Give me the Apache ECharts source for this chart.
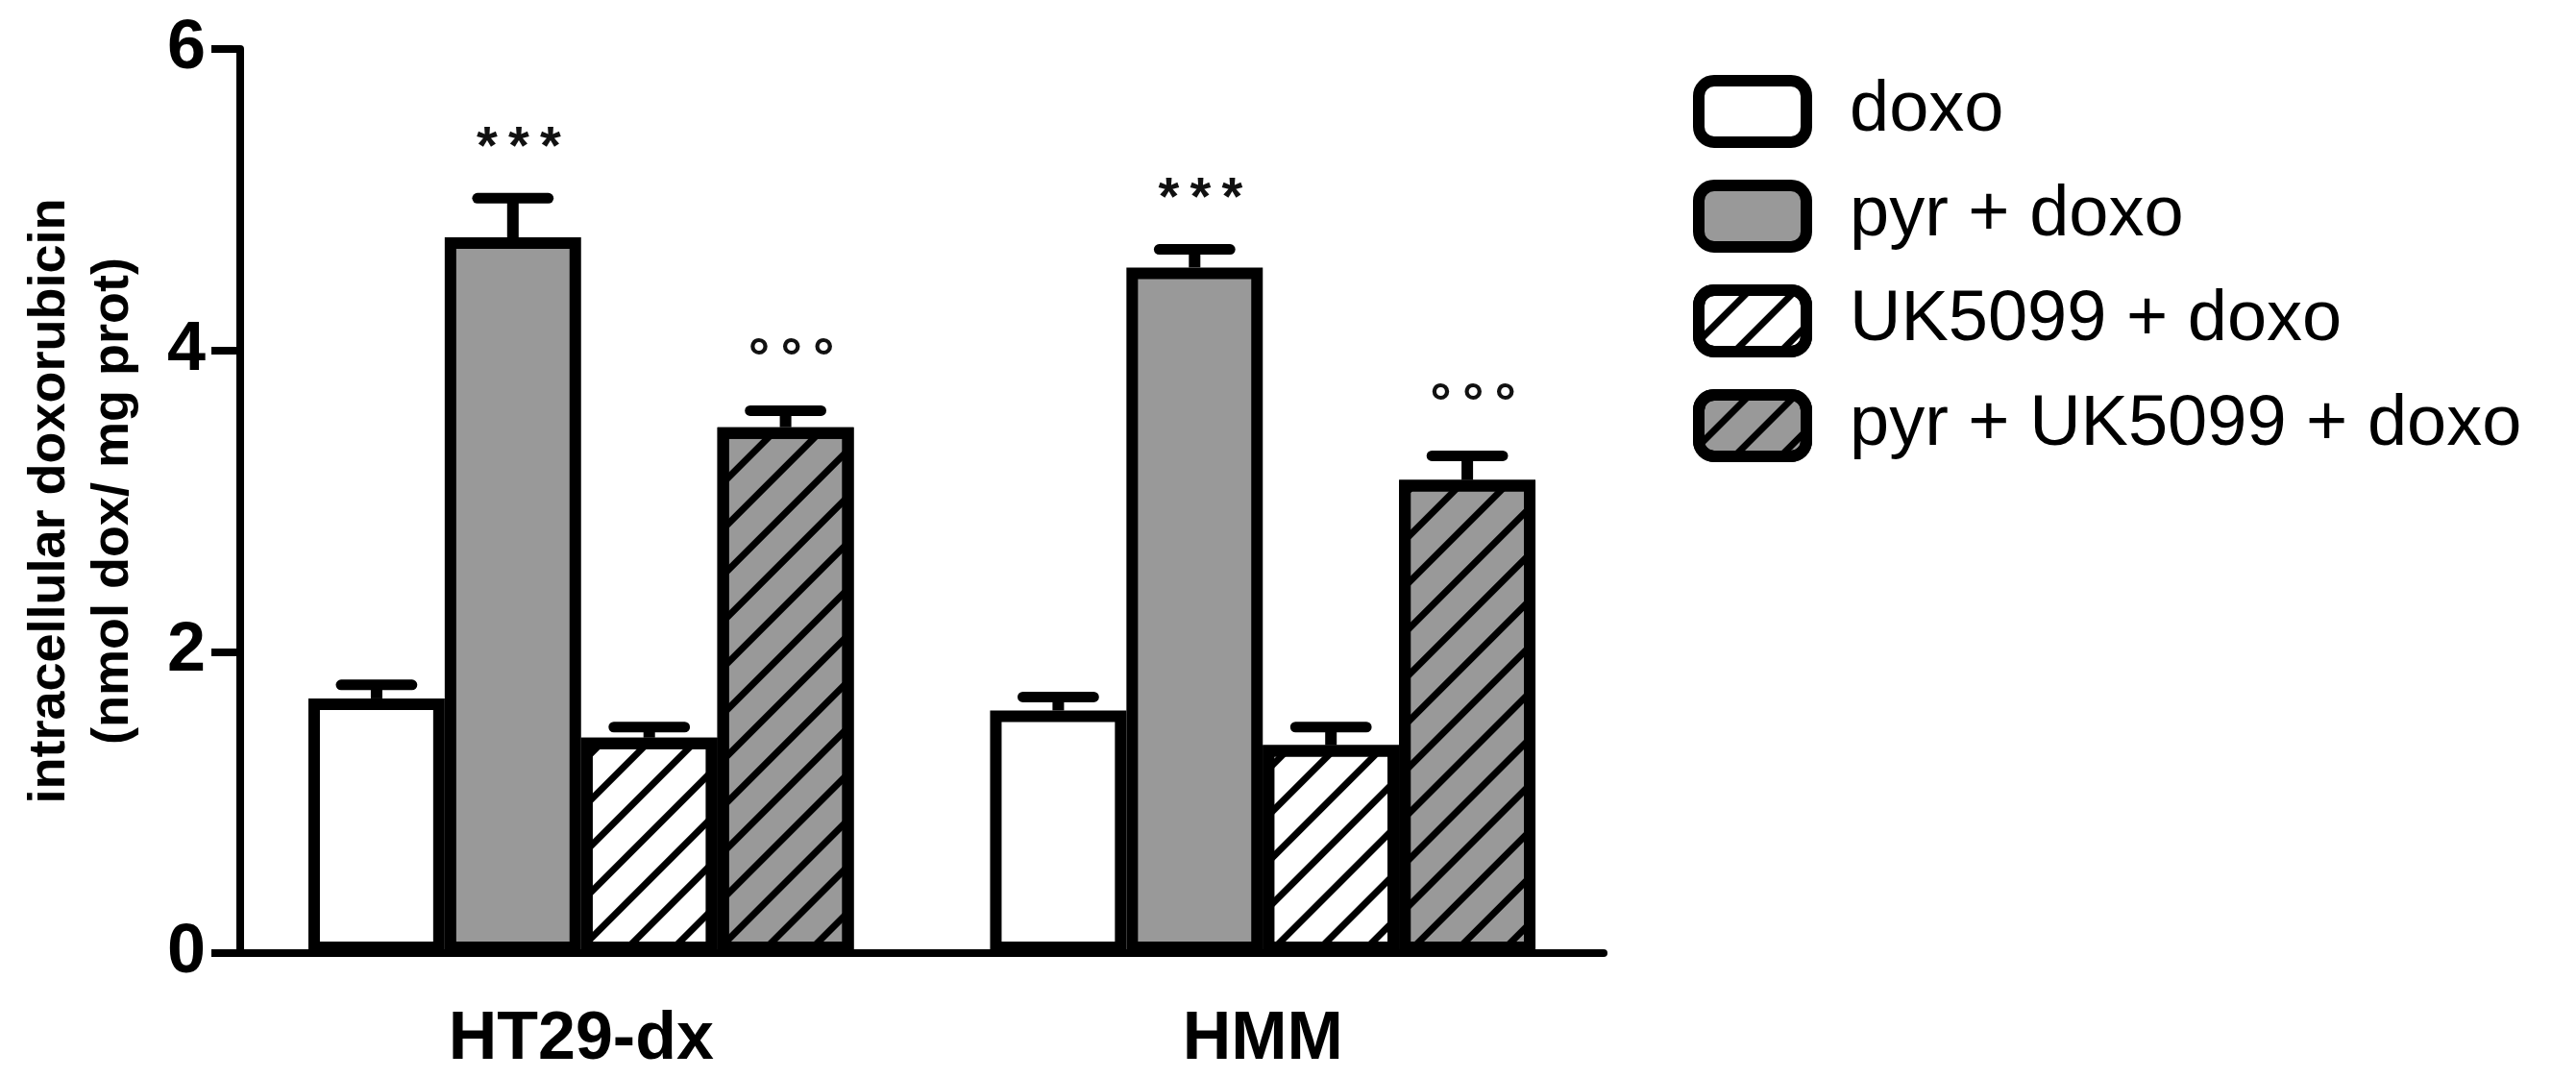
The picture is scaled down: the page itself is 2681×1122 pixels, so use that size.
<!DOCTYPE html>
<html>
<head>
<meta charset="utf-8">
<script src="https://cdn.jsdelivr.net/npm/echarts@6/dist/echarts.min.js"></script>
<style>
  html, body { margin: 0; padding: 0; background: #fff; }
  #chart { width: 2681px; height: 1122px; }
</style>
</head>
<body>
<div id="chart"></div>
<script>
// 细胞系（X 轴分类）
const cellLines = ['HT29-dx', 'HMM'];
// 处理组（图例）
const groups = ['doxo', 'pyr + doxo', 'UK5099 + doxo', 'pyr + UK5099 + doxo'];
// 各组均值
const doxo = [1.69, 1.61];
const pyrDoxo = [4.75, 4.55];
const ukDoxo = [1.43, 1.38];
const pyrUkDoxo = [3.49, 3.14];
// 误差（只画向上的一半）
const doxoErr = [0.09, 0.09];
const pyrDoxoErr = [0.26, 0.12];
const ukDoxoErr = [0.07, 0.12];
const pyrUkDoxoErr = [0.11, 0.16];
// 显著性标记
const doxoMark = ['', ''];
const pyrDoxoMark = ['*\u2009*\u2009*', '*\u2009*\u2009*'];
const ukDoxoMark = ['', ''];
const pyrUkDoxoMark = ['°\u2009°\u2009°', '°\u2009°\u2009°'];
// Y 轴刻度
const yMin = 0;
const yMax = 6;
const yStep = 2;

const values = [doxo, pyrDoxo, ukDoxo, pyrUkDoxo];
const errors = [doxoErr, pyrDoxoErr, ukDoxoErr, pyrUkDoxoErr];
const marks = [doxoMark, pyrDoxoMark, ukDoxoMark, pyrUkDoxoMark];

const chart = echarts.init(document.getElementById('chart'));

const GAP = 0.20; // barCategoryGap
const BORDER = 12;
const FONT = 'Liberation Sans, Arial, sans-serif';

// 斜线填充（/ 方向）
const hatch = {
  symbol: 'rect',
  symbolSize: 1,
  color: '#000',
  dashArrayX: [1, 0],
  dashArrayY: [7, 27],
  rotation: -Math.PI / 4
};

const styles = [
  { color: '#ffffff' },
  { color: '#999999' },
  { color: '#ffffff', decal: hatch },
  { color: '#999999', decal: hatch }
];

// 误差棒数据：[分类, 均值, 误差, 组序号]
const errData = [];
const errMarks = [];
values.forEach((arr, s) => {
  arr.forEach((v, c) => {
    errData.push([c, v, errors[s][c], s]);
    errMarks.push(marks[s][c]);
  });
});

const barSeries = groups.map((name, s) => ({
  name: name,
  type: 'bar',
  data: values[s],
  barGap: '0%',
  barCategoryGap: (GAP * 100) + '%',
  itemStyle: Object.assign({ borderColor: '#000', borderWidth: BORDER }, styles[s]),
  emphasis: { disabled: true }
}));

const errorSeries = {
  type: 'custom',
  z: 5,
  silent: true,
  data: errData,
  renderItem: function (params, api) {
    const c = api.value(0), v = api.value(1), e = api.value(2), s = api.value(3);
    const bandW = api.size([1, 0])[0];
    const barW = bandW * (1 - GAP) / 4;
    const base = api.coord([c, v]);
    const top = api.coord([c, v + e]);
    const x = base[0] + (s - 1.5) * barW;
    const capW = barW * 0.52;
    const children = [
      { type: 'line', shape: { x1: x, y1: base[1], x2: x, y2: top[1] },
        style: { stroke: '#000', lineWidth: 12 } },
      { type: 'line', shape: { x1: x - capW / 2, y1: top[1], x2: x + capW / 2, y2: top[1] },
        style: { stroke: '#000', lineWidth: 11, lineCap: 'round' } }
    ];
    const mark = errMarks[params.dataIndex];
    if (mark) {
      children.push({
        type: 'text',
        style: {
          text: mark, x: x + 6, y: top[1] - 52,
          align: 'center', verticalAlign: 'middle',
          fill: '#111', font: 'bold 56px ' + FONT
        }
      });
    }
    return { type: 'group', children: children };
  }
};

const option = {
  backgroundColor: '#ffffff',
  animation: false,
  grid: { left: 250, right: 1012, top: 51, bottom: 130, containLabel: false, outerBoundsMode: 'none' },
  legend: {
    orient: 'vertical',
    left: 1757,
    top: 73,
    icon: 'roundRect',
    itemWidth: 112,
    itemHeight: 64,
    itemGap: 33,
    selectedMode: false,
    data: groups,
    itemStyle: { borderColor: '#000', borderWidth: BORDER },
    textStyle: { fontFamily: FONT, fontSize: 74, color: '#000', padding: [0, 0, 0, 40] }
  },
  xAxis: {
    type: 'category',
    data: cellLines,
    axisLine: { lineStyle: { color: '#000', width: 8 } },
    axisTick: { alignWithLabel: true, length: 30, lineStyle: { color: '#000', width: 8 } },
    axisLabel: { color: '#000', fontFamily: FONT, fontWeight: 'bold', fontSize: 70, margin: 56 }
  },
  yAxis: {
    type: 'value',
    min: yMin,
    max: yMax,
    interval: yStep,
    name: 'intracellular doxorubicin\n(nmol dox/ mg prot)',
    nameLocation: 'middle',
    nameGap: 99,
    nameTextStyle: { color: '#000', fontFamily: FONT, fontWeight: 'bold', fontSize: 54, lineHeight: 66, align: 'center' },
    axisLine: { show: true, lineStyle: { color: '#000', width: 8 } },
    axisTick: { show: true, length: 30, lineStyle: { color: '#000', width: 8 } },
    axisLabel: { color: '#000', fontFamily: FONT, fontWeight: 'bold', fontSize: 72, margin: 36 },
    splitLine: { show: false }
  },
  series: barSeries.concat([errorSeries])
};

chart.setOption(option);
</script>
</body>
</html>
